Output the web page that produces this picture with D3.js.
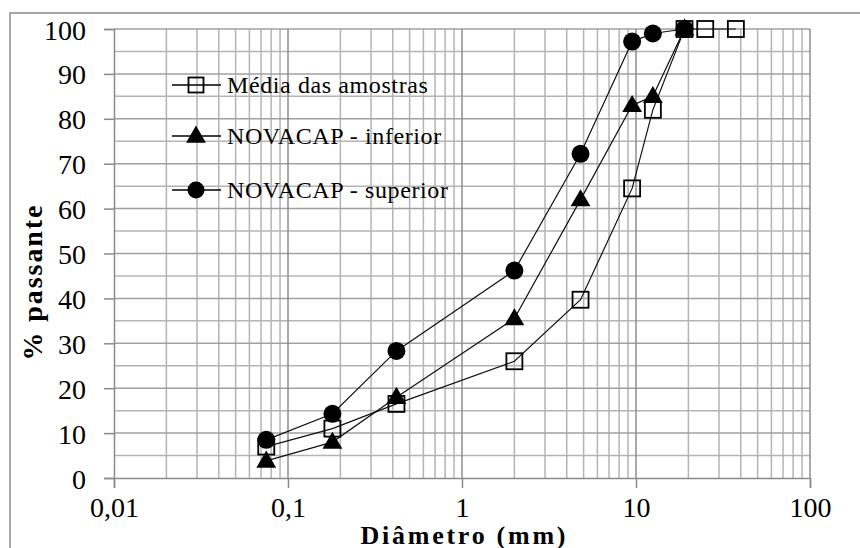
<!DOCTYPE html>
<html>
<head>
<meta charset="utf-8">
<script src="https://cdn.jsdelivr.net/npm/d3@7"></script>
<style>
  body { margin: 0; background: #fff; }
</style>
</head>
<body>
<script>
// sieve sizes (mm) and % passing
var sieveMedia = [0.075, 0.18, 0.42, 2, 4.8, 9.5, 12.5, 19, 25, 37.5];
var media = [7, 11, 16.5, 26, 39.7, 64.5, 82, 100, 100, 100];
var sieveNovacap = [0.075, 0.18, 0.42, 2, 4.8, 9.5, 12.5, 19];
var inferior = [3.8, 8, 18, 35.5, 62, 83, 85, 100];
var superior = [8.5, 14.3, 28.3, 46.2, 72.2, 97.2, 99, 100];

var xTicks = [0.01, 0.1, 1, 10, 100];
var xTickLabels = ["0,01", "0,1", "1", "10", "100"];
var yTicks = [0, 10, 20, 30, 40, 50, 60, 70, 80, 90, 100];

var seriesNames = ["Média das amostras", "NOVACAP - inferior", "NOVACAP - superior"];

var serif = "'Liberation Serif', 'Times New Roman', serif";
var width = 860, height = 548;
var plot = { left: 114, right: 810, top: 29, bottom: 478 };

var xScale = d3.scaleLog()
    .domain([0.01, 100])
    .range([plot.left, plot.right]);

var yScale = d3.scaleLinear()
    .domain([0, 100])
    .range([plot.bottom, plot.top]);

var svg = d3.select("body").append("svg")
    .attr("width", width)
    .attr("height", height)
    .attr("font-family", serif);

// outer frame (runs off the right and bottom of the picture)
svg.append("rect")
    .attr("x", 10).attr("y", 13)
    .attr("width", 900).attr("height", 600)
    .attr("fill", "none")
    .attr("stroke", "#8a8a8a")
    .attr("stroke-width", 1.5);

// minor vertical grid: 2..9 in each decade
var minorX = [];
[0.01, 0.1, 1, 10].forEach(function (d) {
    d3.range(2, 10).forEach(function (k) { minorX.push(d * k); });
});

var grid = svg.append("g");

grid.selectAll(".vminor")
    .data(minorX)
    .enter().append("line")
    .attr("x1", function (d) { return xScale(d); })
    .attr("x2", function (d) { return xScale(d); })
    .attr("y1", plot.top).attr("y2", plot.bottom)
    .attr("stroke", "#b4b4b4")
    .attr("stroke-width", 1.5);

// half steps on y
grid.selectAll(".hminor")
    .data(d3.range(5, 100, 10))
    .enter().append("line")
    .attr("x1", plot.left).attr("x2", plot.right)
    .attr("y1", function (d) { return yScale(d); })
    .attr("y2", function (d) { return yScale(d); })
    .attr("stroke", "#b4b4b4")
    .attr("stroke-width", 1.5);

// major grid
grid.selectAll(".hmajor")
    .data(yTicks.slice(1))
    .enter().append("line")
    .attr("x1", plot.left).attr("x2", plot.right)
    .attr("y1", function (d) { return yScale(d); })
    .attr("y2", function (d) { return yScale(d); })
    .attr("stroke", "#a0a0a0")
    .attr("stroke-width", 1.5);

grid.selectAll(".vmajor")
    .data(xTicks.slice(1))
    .enter().append("line")
    .attr("x1", function (d) { return xScale(d); })
    .attr("x2", function (d) { return xScale(d); })
    .attr("y1", plot.top).attr("y2", plot.bottom)
    .attr("stroke", "#8c8c8c")
    .attr("stroke-width", 1.5);

// x axis
var xAxis = svg.append("g")
    .attr("transform", "translate(0," + plot.bottom + ")")
    .call(d3.axisBottom(xScale)
        .tickValues(xTicks)
        .tickFormat(function (d, i) { return xTickLabels[i]; })
        .tickSize(10)
        .tickPadding(9));

// y axis
var yAxis = svg.append("g")
    .attr("transform", "translate(" + plot.left + ",0)")
    .call(d3.axisLeft(yScale)
        .tickValues(yTicks)
        .tickSize(10)
        .tickPadding(18));

[xAxis, yAxis].forEach(function (ax) {
    ax.attr("font-family", serif).attr("font-size", 28);
    ax.select(".domain").attr("stroke", "#8a8a8a").attr("stroke-width", 1.5);
    ax.selectAll(".tick line").attr("stroke", "#8a8a8a").attr("stroke-width", 1.5);
    ax.selectAll(".tick text").attr("fill", "#000");
});
yAxis.selectAll(".tick text").attr("dy", "0.36em");

// axis titles
svg.append("text")
    .attr("x", 463)
    .attr("y", 544)
    .attr("text-anchor", "middle")
    .attr("font-size", 26)
    .attr("font-weight", "bold")
    .attr("textLength", 205)
    .text("Diâmetro (mm)");

svg.append("text")
    .attr("transform", "translate(42,283) rotate(-90)")
    .attr("text-anchor", "middle")
    .attr("font-size", 28)
    .attr("font-weight", "bold")
    .attr("textLength", 155)
    .text("% passante");

// lines
var line = d3.line()
    .x(function (d) { return xScale(d.x); })
    .y(function (d) { return yScale(d.y); });

function pairs(xs, ys) {
    return ys.map(function (y, i) { return { x: xs[i], y: y }; });
}

var dataMedia = pairs(sieveMedia, media);
var dataInf = pairs(sieveNovacap, inferior);
var dataSup = pairs(sieveNovacap, superior);

[dataMedia, dataInf, dataSup].forEach(function (data) {
    svg.append("path")
        .datum(data)
        .attr("fill", "none")
        .attr("stroke", "#111")
        .attr("stroke-width", 1.2)
        .attr("d", line);
});

// markers
var triangle = d3.symbol().type(d3.symbolTriangle).size(170);

function drawSquare(g, x, y, s) {
    g.append("rect")
        .attr("x", x - s / 2).attr("y", y - s / 2)
        .attr("width", s).attr("height", s)
        .attr("fill", "none")
        .attr("stroke", "#000")
        .attr("stroke-width", 1.8);
}
function drawTriangle(g, x, y) {
    g.append("path")
        .attr("transform", "translate(" + x + "," + (y + 1) + ")")
        .attr("d", triangle())
        .attr("fill", "#000");
}
function drawCircle(g, x, y, r) {
    g.append("circle")
        .attr("cx", x).attr("cy", y).attr("r", r)
        .attr("fill", "#000");
}

var marks = svg.append("g");
dataMedia.forEach(function (d) { drawSquare(marks, xScale(d.x), yScale(d.y), 16); });
dataInf.forEach(function (d) { drawTriangle(marks, xScale(d.x), yScale(d.y)); });
dataSup.forEach(function (d) { drawCircle(marks, xScale(d.x), yScale(d.y), 9); });

// legend
var legendRows = [85, 136, 190];
var legend = svg.append("g");
seriesNames.forEach(function (name, i) {
    var y = legendRows[i];
    legend.append("line")
        .attr("x1", 172).attr("x2", 221)
        .attr("y1", y).attr("y2", y)
        .attr("stroke", "#000")
        .attr("stroke-width", 1.5);
    if (i === 0) drawSquare(legend, 196, y, 15);
    if (i === 1) drawTriangle(legend, 196, y);
    if (i === 2) drawCircle(legend, 196, y, 8.5);
    legend.append("text")
        .attr("x", 227)
        .attr("y", y + 8)
        .attr("font-size", 24)
        .attr("letter-spacing", 0.6)
        .text(name);
});
</script>
</body>
</html>
